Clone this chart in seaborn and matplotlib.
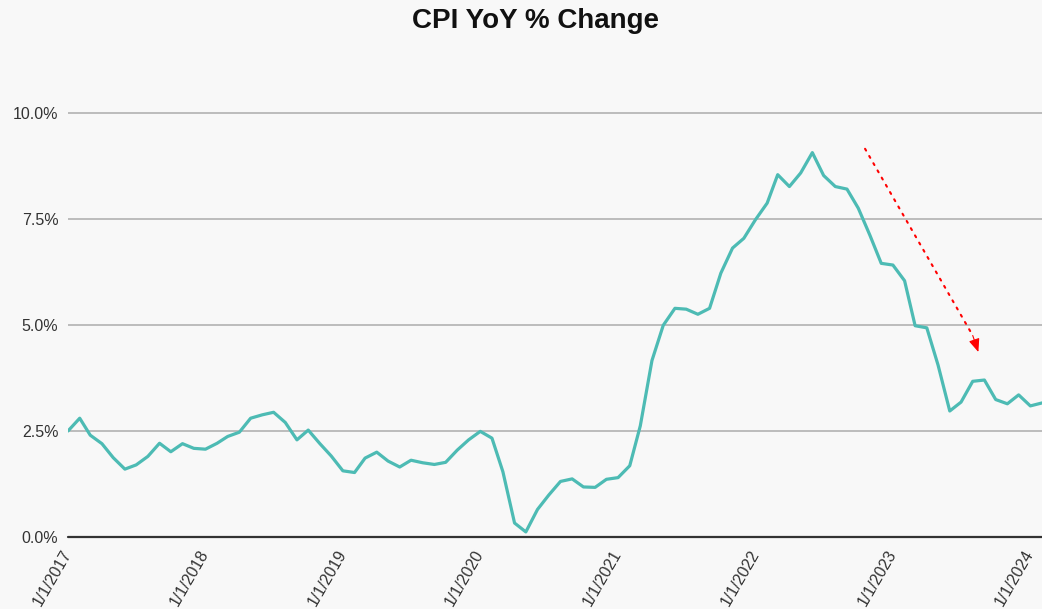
import matplotlib.pyplot as plt
import matplotlib.dates as mdates
import pandas as pd
import seaborn as sns

# monthly CPI year-over-year change, %
cpi_2017 = [2.50, 2.80, 2.40, 2.20, 1.87, 1.60, 1.70, 1.90, 2.21, 2.01, 2.20, 2.09]
cpi_2018 = [2.07, 2.21, 2.37, 2.47, 2.80, 2.88, 2.94, 2.70, 2.29, 2.52, 2.20, 1.91]
cpi_2019 = [1.56, 1.52, 1.86, 2.00, 1.79, 1.65, 1.81, 1.75, 1.71, 1.76, 2.05, 2.29]
cpi_2020 = [2.49, 2.33, 1.54, 0.33, 0.12, 0.65, 0.99, 1.31, 1.37, 1.18, 1.17, 1.36]
cpi_2021 = [1.40, 1.68, 2.62, 4.16, 4.99, 5.39, 5.37, 5.25, 5.39, 6.22, 6.81, 7.04]
cpi_2022 = [7.48, 7.87, 8.54, 8.26, 8.58, 9.06, 8.52, 8.26, 8.20, 7.75, 7.11, 6.45]
cpi_2023 = [6.41, 6.04, 4.98, 4.93, 4.05, 2.97, 3.18, 3.67, 3.70, 3.24, 3.14, 3.35]
cpi_2024 = [3.09, 3.16]

cpi = cpi_2017 + cpi_2018 + cpi_2019 + cpi_2020 + cpi_2021 + cpi_2022 + cpi_2023 + cpi_2024
months = pd.date_range("2017-01-01", periods=len(cpi), freq="MS")

year_ticks = ["2017-01-01", "2018-01-01", "2019-01-01", "2020-01-01",
              "2021-01-01", "2022-01-01", "2023-01-01", "2024-01-01"]
year_labels = ["1/1/2017", "1/1/2018", "1/1/2019", "1/1/2020",
               "1/1/2021", "1/1/2022", "1/1/2023", "1/1/2024"]
y_ticks = [0, 2.5, 5, 7.5, 10]

# trend arrow: dotted shaft from start to end, solid head near the end
arrow_from = ("2022-10-19", 9.15)
arrow_head_base = ("2023-08-01", 4.75)
arrow_to = ("2023-08-16", 4.36)

df = pd.DataFrame({"month": months, "cpi": cpi})

sns.set_style("white")
plt.rcParams["font.family"] = ["Liberation Sans", "DejaVu Sans"]

bg = "#f8f8f8"
fig = plt.figure(figsize=(10.42, 6.09), dpi=100, facecolor=bg)
ax = fig.add_axes([0.0653, 0.1182, 0.9347, 0.7176])
ax.set_facecolor(bg)

sns.lineplot(data=df, x="month", y="cpi", color="#4dbbb4", linewidth=2.3, ax=ax, zorder=3)

ax.set_xlim(months[0], months[-1])
ax.set_ylim(0, 10.3)

ax.set_yticks(y_ticks)
ax.set_yticklabels([f"{v:.1f}%" for v in y_ticks])
ax.yaxis.grid(True, color="#bcbcbc", linewidth=1.4)
ax.xaxis.grid(False)
ax.axhline(0, color="#333333", linewidth=1.6, clip_on=False, zorder=4)

ax.set_xticks(pd.to_datetime(year_ticks))
ax.set_xticklabels(year_labels, rotation=60, ha="right", va="center", rotation_mode="anchor")
ax.tick_params(axis="both", length=0, labelsize=11.5, labelcolor="#333333")
ax.tick_params(axis="y", pad=7)
ax.tick_params(axis="x", pad=10)

for s in ax.spines.values():
    s.set_visible(False)

ax.set_xlabel("")
ax.set_ylabel("")


def pt(p):
    return (mdates.date2num(pd.Timestamp(p[0])), p[1])


ax.annotate("", xy=pt(arrow_head_base), xytext=pt(arrow_from),
            arrowprops=dict(arrowstyle="-", color="red", linestyle=(0, (1, 3)),
                            lw=1.5, shrinkA=0, shrinkB=0))
ax.annotate("", xy=pt(arrow_to), xytext=pt(arrow_head_base),
            arrowprops=dict(arrowstyle="-|>,head_length=0.8,head_width=0.33",
                            color="red", lw=0.8, mutation_scale=10,
                            shrinkA=0, shrinkB=0))

fig.text(0.514, 1 - 28 / 609, "CPI YoY % Change", ha="center", va="baseline",
         fontsize=20, fontweight="bold", color="#111111")

fig.savefig("out.png", dpi=100, facecolor=bg)
